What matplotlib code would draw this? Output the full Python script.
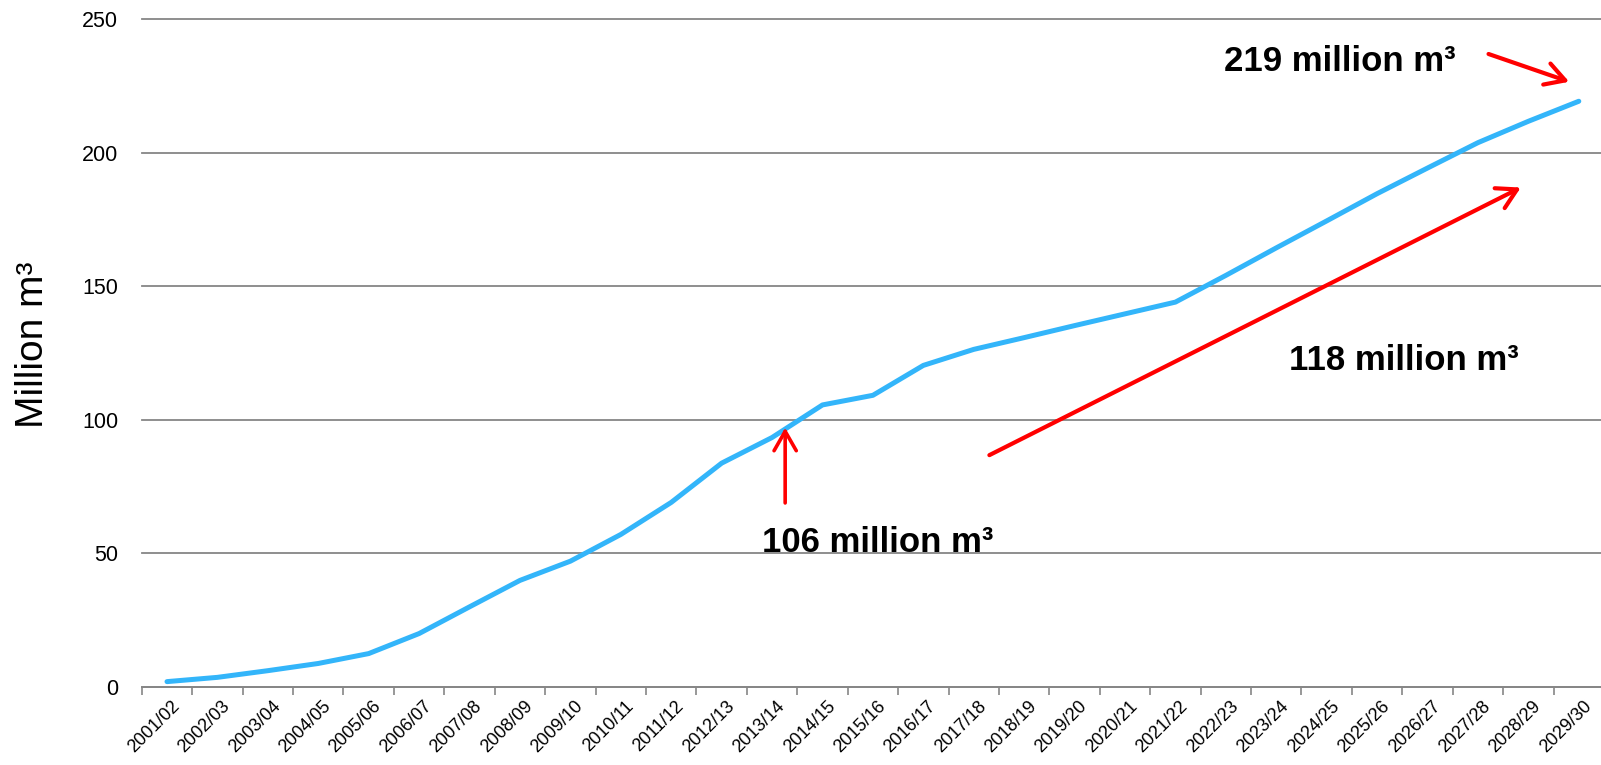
import matplotlib
matplotlib.use("Agg")
import matplotlib.pyplot as plt
import numpy as np

plt.rcParams['font.family'] = ['Liberation Sans', 'DejaVu Sans']

years = ['2001/02', '2002/03', '2003/04', '2004/05', '2005/06', '2006/07', '2007/08',
         '2008/09', '2009/10', '2010/11', '2011/12', '2012/13', '2013/14', '2014/15',
         '2015/16', '2016/17', '2017/18', '2018/19', '2019/20', '2020/21', '2021/22',
         '2022/23', '2023/24', '2024/25', '2025/26', '2026/27', '2027/28', '2028/29',
         '2029/30']
volume = [1.9, 3.5, 6.0, 8.7, 12.4, 19.9, 29.9, 39.8, 47.0, 57.0, 69.0, 83.7, 93.3,
          105.5, 109.1, 120.3, 126.3, 130.7, 135.2, 139.6, 144.0, 154.0, 164.3, 174.4,
          184.6, 194.2, 203.7, 211.7, 219.2]
yticks = [0, 50, 100, 150, 200, 250]

# annotations (label text, position in category-index / value units)
ann_texts = ['106 million m\u00b3', '118 million m\u00b3', '219 million m\u00b3']
ann_pos = [(14.09, 50.5), (24.54, 118.4), (23.27, 230.4)]
arrow_from = [(12.26, 68.8), (16.31, 86.7), (26.21, 236.9)]
arrow_to = [(12.26, 97.0), (26.85, 186.9), (27.81, 226.5)]
arrow_lw = [2.6, 3.0, 3.0]

W, H = 1601, 765
fig = plt.figure(figsize=(W / 100, H / 100), dpi=100)
left_px, right_px, top_px, bot_px = 141.8, 1604.0, 19.0, 686.7
ax = fig.add_axes([left_px / W, 1 - bot_px / H, (right_px - left_px) / W, (bot_px - top_px) / H])

x = np.arange(len(years))
ax.plot(x, volume, color='#33B5FA', lw=3.6, solid_capstyle='round', solid_joinstyle='round', zorder=3)

ax.set_xlim(-0.5, len(years) - 0.5)
ax.set_ylim(0, 250)
ax.set_yticks(yticks)
ax.set_yticklabels([str(v) for v in yticks], fontsize=15.5)
ax.tick_params(axis='y', length=0, pad=17)
ax.yaxis.grid(True, color='#868686', lw=1.3)
for gl in ax.get_ygridlines():
    gl.set_clip_on(False)
ax.set_axisbelow(True)

ax.set_xticks(np.arange(-0.5, len(years), 1.0))
ax.set_xticklabels([])
ax.tick_params(axis='x', which='major', length=6, width=1.2, color='#868686', direction='out')
ax.set_xticks(x + 0.08, minor=True)
ax.set_xticklabels(years, minor=True, rotation=45, ha='right', va='top',
                   rotation_mode='anchor', fontsize=13)
ax.tick_params(axis='x', which='minor', length=0, pad=8)

for s in ['left', 'right', 'top']:
    ax.spines[s].set_visible(False)
ax.spines['bottom'].set_color('#868686')
ax.spines['bottom'].set_linewidth(1.3)

for (x0, y0), (x1, y1), lw in zip(arrow_from, arrow_to, arrow_lw):
    ax.annotate('', xy=(x1, y1), xytext=(x0, y0),
                arrowprops=dict(arrowstyle='->,head_length=0.7,head_width=0.4',
                                color='#FF0000', lw=lw, mutation_scale=20,
                                shrinkA=0, shrinkB=0), zorder=4)

for t, (tx, ty) in zip(ann_texts, ann_pos):
    ax.text(tx, ty, t, ha='center', va='baseline', fontsize=25, fontweight='bold',
            color='black', zorder=5)

fig.text(33 / W, 1 - 345 / H, 'Million m\u00b3', rotation=90, ha='center', va='center',
         fontsize=28, color='black')

fig.savefig('out.png', dpi=100)
